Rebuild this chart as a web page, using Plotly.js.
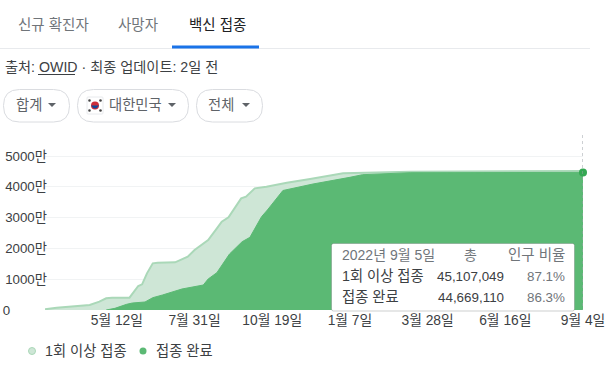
<!DOCTYPE html>
<html>
<head>
<meta charset="utf-8">
<script src="https://cdn.plot.ly/plotly-3.0.1.min.js"></script>
<style>html,body{margin:0;padding:0;background:#fff;overflow:hidden}#c{width:615px;height:365px}</style>
</head>
<body>
<div id="c"></div>
<script>
// Values are in units of 만 (10,000 people)
const firstDoseDates = ['2021-02-27','2021-03-11','2021-04-14','2021-04-24','2021-05-01','2021-05-07','2021-05-25','2021-06-03','2021-06-07','2021-06-12','2021-06-18','2021-06-23','2021-07-11','2021-07-24','2021-07-31','2021-08-14','2021-08-23','2021-08-28','2021-09-04','2021-09-17','2021-09-22','2021-10-01','2021-10-13','2021-11-03','2021-11-27','2021-12-14','2021-12-31','2022-03-10','2022-09-04'];
const firstDoseValues = [22,76,162,270,379,400,400,779,833,1190,1515,1536,1547,1731,1948,2272,2651,2867,3008,3625,3679,3949,4003,4133,4252,4350,4438,4490,4510.7];
const fullDoseDates = ['2021-05-01','2021-05-10','2021-05-22','2021-05-28','2021-06-10','2021-06-18','2021-06-28','2021-07-18','2021-08-09','2021-08-14','2021-08-23','2021-09-05','2021-09-18','2021-09-26','2021-10-08','2021-10-14','2021-10-30','2021-11-13','2021-11-30','2022-01-07','2022-01-20','2022-03-10','2022-09-04'];
const fullDoseValues = [0,54,184,227,260,400,487,682,811,1006,1212,1818,2218,2359,3030,3246,3880,3982,4091,4308,4393,4458,4466.9];
const xTickDates = ['2021-05-12','2021-07-31','2021-10-19','2022-01-07','2022-03-28','2022-06-16','2022-09-04'];
const xTickLabels = ['5월 12일','7월 31일','10월 19일','1월 7일','3월 28일','6월 16일','9월 4일'];
const yTickValues = [0,1000,2000,3000,4000,5000];
const yTickLabels = ['0\u00a0\u00a0\u00a0\u00a0\u00a0\u00a0\u00a0\u00a0\u00a0\u00a0','1000만','2000만','3000만','4000만','5000만'];
const seriesNames = ['1회 이상 접종','접종 완료'];
const tooltipHeader = ['2022년 9월 5일','총','인구 비율'];
const tooltipTotals = ['45,107,049','44,669,110'];
const tooltipShares = ['87.1%','86.3%'];

const W=615,H=365;
const FONT='"Liberation Sans","Noto Sans CJK KR",sans-serif';
const fx=p=>p/W, fy=p=>1-p/H;
const LIGHT='#cee6d6', LIGHTLINE='#aad8b8', GREEN='#5bb974', DOT='#34a853';

function txt(text,x,y,anchor,color,size){
  return {text,x:fx(x),y:fy(y),xref:'paper',yref:'paper',xanchor:anchor,yanchor:'middle',showarrow:false,borderpad:0,
    font:{family:FONT,size:size||13,color:color}};
}
function rrect(x0,y0,x1,y1,r,line,fill,lw){
  const X=fx,Y=fy;
  const path=`M ${X(x0+r)} ${Y(y0)} L ${X(x1-r)} ${Y(y0)} Q ${X(x1)} ${Y(y0)} ${X(x1)} ${Y(y0+r)} L ${X(x1)} ${Y(y1-r)} Q ${X(x1)} ${Y(y1)} ${X(x1-r)} ${Y(y1)} L ${X(x0+r)} ${Y(y1)} Q ${X(x0)} ${Y(y1)} ${X(x0)} ${Y(y1-r)} L ${X(x0)} ${Y(y0+r)} Q ${X(x0)} ${Y(y0)} ${X(x0+r)} ${Y(y0)} Z`;
  return {type:'path',path,xref:'paper',yref:'paper',fillcolor:fill,line:{color:line,width:lw===undefined?1:lw},layer:'above'};
}
function hline(x0,x1,y,color,w){
  return {type:'line',xref:'paper',yref:'paper',x0:fx(x0),x1:fx(x1),y0:fy(y),y1:fy(y),line:{color,width:w},layer:'above'};
}
function caret(cx,cy){
  const p=`M ${fx(cx-4)} ${fy(cy-2)} L ${fx(cx+4)} ${fy(cy-2)} L ${fx(cx)} ${fy(cy+2)} Z`;
  return {type:'path',path:p,xref:'paper',yref:'paper',fillcolor:'#5f6368',line:{width:0},layer:'above'};
}
function circ(cx,cy,r,fill,lineColor){
  return {type:'circle',xref:'paper',yref:'paper',x0:fx(cx-r),x1:fx(cx+r),y0:fy(cy-r),y1:fy(cy+r),fillcolor:fill,line:lineColor?{color:lineColor,width:1}:{width:0},layer:'above'};
}

const shapes=[
  hline(0,590,48.5,'#e8eaed',1),
  hline(172,259,47,'#1a73e8',3),
  hline(38,75,74.5,'#3c4043',1),
  rrect(3.5,89.5,69.5,122,16,'#dadce0','#ffffff'),
  rrect(77.5,89.5,188.5,122,16,'#dadce0','#ffffff'),
  rrect(196.5,89.5,262.5,122,16,'#dadce0','#ffffff'),
  caret(52,105),caret(172,105),caret(246,105),
  rrect(87,97,103,114,1,'#e8eaed','#ffffff'),
  circ(95,105.5,4,'#cd2e3a'),
  {type:'path',path:`M ${fx(91)} ${fy(105.5)} Q ${fx(95)} ${fy(111.5)} ${fx(99)} ${fy(105.5)} Z`,xref:'paper',yref:'paper',fillcolor:'#0f4c9c',line:{width:0},layer:'above'},
  circ(89.5,100.5,1.3,'#444'),circ(100.5,100.5,1.3,'#444'),circ(89.5,110.5,1.3,'#444'),circ(100.5,110.5,1.3,'#444'),
  {type:'line',xref:'x',yref:'paper',x0:'2022-09-04',x1:'2022-09-04',y0:fy(135),y1:fy(310),line:{color:'#9aa0a6',width:1,dash:'dot'},layer:'above'},
  rrect(331.5,243.5,574.5,311,2,'rgba(60,64,67,0.25)','#ffffff'),
  circ(32,351,3.5,LIGHT,LIGHTLINE),
  circ(143,351,3.5,GREEN)
];
const annotations=[
  txt('신규 확진자',53.5,25,'center','#70757a',14.5),
  txt('사망자',138,25,'center','#70757a',14.5),
  txt('백신 접종',217,25,'center','#202124',14.5),
  txt('출처: OWID · 최종 업데이트: 2일 전',3.5,67,'left','#3c4043',14.2),
  txt('합계',29,105,'center','#5f6368',14.3),
  txt('대한민국',107.5,105,'left','#5f6368',14.3),
  txt('전체',221,105,'center','#5f6368',14.3),
  txt(tooltipHeader[0],340.5,255,'left','#70757a',14),
  txt(tooltipHeader[1],470,255,'center','#70757a',14),
  txt(tooltipHeader[2],566,255,'right','#70757a',14.5),
  txt(seriesNames[0],340.5,276,'left','#3c4043',14.3),
  txt(tooltipTotals[0],505,276,'right','#3c4043',13.4),
  txt(tooltipShares[0],566,276,'right','#70757a',13.4),
  txt(seriesNames[1],340.5,297,'left','#3c4043',14.3),
  txt(tooltipTotals[1],505,297,'right','#3c4043',13.4),
  txt(tooltipShares[1],566,297,'right','#70757a',13.4),
  txt(seriesNames[0],43.5,351,'left','#3c4043',14.3),
  txt(seriesNames[1],154.5,351,'left','#3c4043',14.3)
];
const last=a=>a[a.length-1];
const traces=[
  {x:firstDoseDates,y:firstDoseValues,type:'scatter',mode:'lines',name:seriesNames[0],fill:'tozeroy',fillcolor:LIGHT,line:{color:LIGHTLINE,width:2},hoverinfo:'skip'},
  {x:fullDoseDates,y:fullDoseValues,type:'scatter',mode:'lines',name:seriesNames[1],fill:'tozeroy',fillcolor:GREEN,line:{color:GREEN,width:1},hoverinfo:'skip'},
  {x:[last(fullDoseDates)],y:[last(fullDoseValues)],type:'scatter',mode:'markers',marker:{color:DOT,size:8},cliponaxis:false,hoverinfo:'skip'}
];
const layout={
  width:W,height:H,autosize:false,
  margin:{l:0,r:0,t:0,b:0,pad:0},
  paper_bgcolor:'#fff',plot_bgcolor:'#fff',
  font:{family:FONT,size:13,color:'#3c4043'},
  xaxis:{type:'date',domain:[fx(45),fx(583)],range:['2021-02-27','2022-09-04'],tickmode:'array',tickvals:xTickDates,ticktext:xTickLabels,ticks:'',showgrid:false,zeroline:false,showline:false,tickangle:0,automargin:false,tickfont:{size:13.8,color:'#3c4043'}},
  yaxis:{domain:[fy(310),fy(135)],range:[0,5682],tickmode:'array',tickvals:yTickValues,ticktext:yTickLabels,ticks:'',gridcolor:'#f1f3f4',gridwidth:1,zeroline:false,showline:false,automargin:false,ticklabelstandoff:-3,tickfont:{size:13.3,color:'#3c4043'}},
  showlegend:false,
  shapes,annotations
};
Plotly.newPlot('c',traces,layout,{displayModeBar:false,staticPlot:true});
</script>
</body>
</html>
